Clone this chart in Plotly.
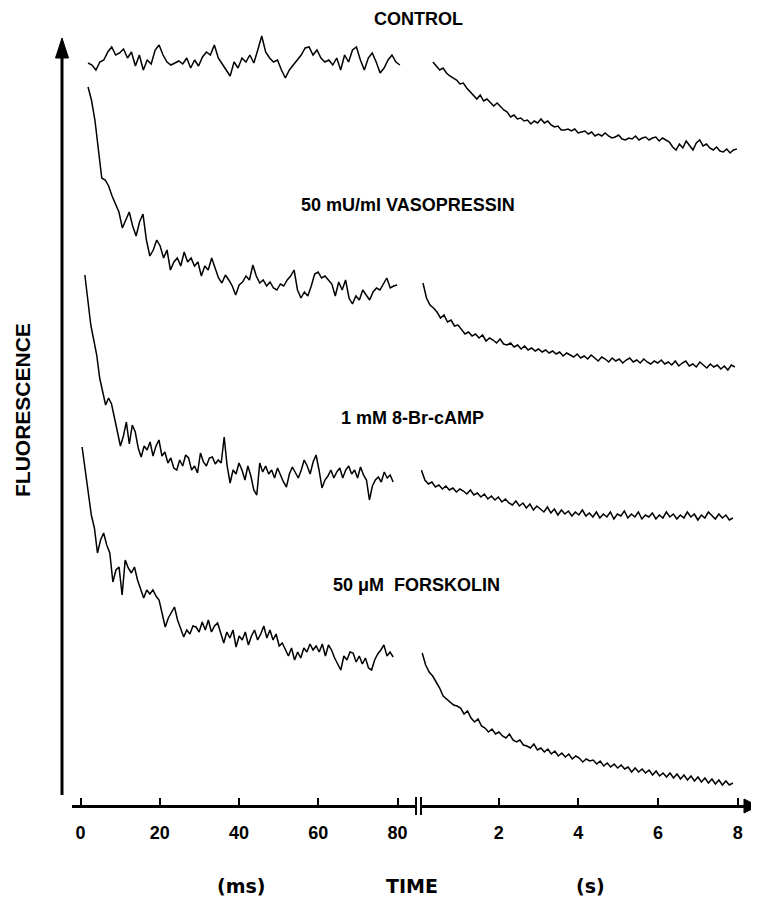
import numpy as np
import plotly.graph_objects as go

# page size and default 8px body margin of the written html page
PAGE_W, PAGE_H = 759, 899
OFF = 8
W, H = PAGE_W - OFF, PAGE_H - OFF

# ---------------- data (fluorescence, arbitrary units) ----------------
# millisecond segments
control_ms = [743,741,736,744,746,754,759,751,753,757,748,754,740,751,736,746,742,756,761,751,744,741,743,745,742,748,738,746,740,749,754,751,761,748,742,736,730,744,738,748,744,751,743,756,770,754,748,744,746,736,728,736,741,746,751,758,759,751,756,748,744,746,741,748,736,751,744,756,759,746,736,748,753,744,733,738,746,751,744,741]
vaso_ms = [719,706,686,656,628,626,620,610,601,594,578,586,594,580,570,584,592,566,550,556,566,560,548,556,536,544,548,540,554,544,548,540,544,530,540,536,548,538,528,523,531,526,520,511,521,524,530,526,541,530,523,526,520,524,518,516,522,520,526,530,536,516,508,514,510,520,532,534,528,530,526,522,510,524,516,526,508,502,510,506,516,511,506,514,518,516,522,528,518,520,521]
brcamp_ms = [531,506,481,466,451,428,414,401,408,402,388,374,360,370,384,362,381,374,358,349,360,356,364,350,360,366,350,354,343,348,338,336,346,340,351,348,336,340,333,353,344,340,348,349,342,346,343,369,340,323,336,332,343,336,326,340,330,316,311,343,334,340,332,336,328,338,330,324,319,332,339,334,328,336,346,340,332,344,351,336,318,326,330,336,328,334,338,328,336,340,332,336,328,339,331,326,306,320,326,329,324,334,328,331,324]
forsk_ms = [359,336,314,291,278,253,266,273,261,253,224,236,239,211,246,238,233,239,226,216,208,216,212,216,210,206,194,179,188,194,199,186,178,169,176,172,180,179,174,184,176,186,174,180,183,172,163,174,168,176,159,170,166,174,161,170,176,166,172,180,168,176,166,172,160,163,156,150,158,146,154,148,158,154,162,156,160,154,162,150,161,156,148,142,136,150,146,154,153,144,150,142,148,138,136,146,152,156,161,150,154,149]

# second segments
control_s = [744,740,736,738,733,730,728,726,722,723,718,714,710,707,711,705,707,703,700,703,699,696,694,689,691,687,688,685,686,682,685,683,687,683,685,681,679,680,676,676,677,675,677,673,674,675,672,674,670,672,670,673,670,668,669,671,667,666,668,667,670,666,668,669,666,668,669,665,668,666,664,659,656,662,658,665,660,656,663,666,660,662,658,656,659,655,654,657,653,656,657]
vaso_s = [523,508,501,498,494,488,491,484,486,480,481,476,472,474,470,472,468,471,465,468,466,463,467,462,461,463,459,461,457,460,456,458,455,457,454,456,453,455,452,454,450,453,451,449,452,448,450,447,451,448,445,449,447,444,448,445,447,443,446,448,444,446,443,447,444,442,445,443,446,442,444,441,445,440,443,445,440,442,439,444,441,438,442,439,441,437,440,436,441,439]
brcamp_s = [336,326,322,324,319,321,317,320,316,318,314,317,315,312,316,311,313,309,312,307,310,306,309,304,307,303,301,305,300,303,298,302,296,300,297,294,299,293,297,291,296,292,295,290,294,291,296,290,293,289,294,288,292,289,294,287,292,290,295,288,292,289,294,287,291,289,293,287,291,288,294,289,292,287,291,288,294,289,292,286,291,288,294,290,287,292,288,291,286,288]
forsk_s = [153,141,134,130,124,118,110,107,104,101,100,98,92,95,88,84,87,80,78,74,77,72,74,70,68,72,66,64,66,61,60,58,62,56,58,54,57,52,55,50,53,49,52,47,50,48,44,47,45,46,42,45,40,43,39,42,38,41,37,39,34,38,34,37,33,36,31,35,30,33,29,33,28,32,27,31,26,30,25,29,24,28,23,27,22,26,21,25,21,23]

# sampling windows (start, end) of each segment
ms_windows = {"control": (1.9, 80.6), "vaso": (1.9, 79.9), "brcamp": (1.1, 78.9), "forsk": (0.4, 78.9)}
s_windows = {"control": (0.35, 7.98), "vaso": (0.10, 7.93), "brcamp": (0.06, 7.88), "forsk": (0.08, 7.88)}

ms_ticks = [0, 20, 40, 60, 80]
s_ticks = [2, 4, 6, 8]

labels = ["CONTROL", "50 mU/ml VASOPRESSIN", "1 mM 8-Br-cAMP", "50 \u03bcM  FORSKOLIN"]

# ---------------- figure ----------------
def px(x):
    return (x - OFF) / W

def py(y):
    return 1 - (y - OFF) / H

fig = go.Figure()
line = dict(color="black", width=1.5)

for key, vals in [("control", control_ms), ("vaso", vaso_ms), ("brcamp", brcamp_ms), ("forsk", forsk_ms)]:
    t0, t1 = ms_windows[key]
    fig.add_trace(go.Scatter(x=np.linspace(t0, t1, len(vals)), y=vals, mode="lines",
                             line=line, xaxis="x", yaxis="y", showlegend=False, hoverinfo="skip"))
for key, vals in [("control", control_s), ("vaso", vaso_s), ("brcamp", brcamp_s), ("forsk", forsk_s)]:
    t0, t1 = s_windows[key]
    fig.add_trace(go.Scatter(x=np.linspace(t0, t1, len(vals)), y=vals, mode="lines",
                             line=line, xaxis="x2", yaxis="y", showlegend=False, hoverinfo="skip"))

FONT = "Liberation Sans, Arial, Helvetica, sans-serif"
NARROW = "Liberation Sans Narrow, Arial Narrow, Liberation Sans, Arial, sans-serif"
pos_axis = py(806)

# ms axis: 0 ms at page x 80.5, 3.9625 px/ms, domain px [72, 416]
ms_dom = (72, 416)
ms_rng = [(ms_dom[0] - 80.5) / 3.9625, (ms_dom[1] - 80.5) / 3.9625]
# s axis: 0 s at page x 419, 39.83 px/s, domain px [421, 750]
s_dom = (421, 750)
s_rng = [(s_dom[0] - 419) / 39.83, (s_dom[1] - 419) / 39.83]

common = dict(showline=True, linecolor="black", linewidth=3, ticks="inside", ticklen=7,
              tickwidth=1.5, tickcolor="black", showgrid=False, zeroline=False,
              tickfont=dict(family=NARROW, size=18, color="black", weight="bold"),
              anchor="free", position=pos_axis, ticklabelstandoff=9)

fig.update_layout(
    width=W, height=H,
    margin=dict(l=0, r=0, t=0, b=0),
    paper_bgcolor="white", plot_bgcolor="white",
    xaxis=dict(domain=[px(ms_dom[0]), px(ms_dom[1])], range=ms_rng,
               tickmode="array", tickvals=ms_ticks, ticktext=[str(v) for v in ms_ticks], **common),
    xaxis2=dict(domain=[px(s_dom[0]), px(s_dom[1])], range=s_rng,
                tickmode="array", tickvals=s_ticks, ticktext=[str(v) for v in s_ticks], **common),
    yaxis=dict(domain=[0, 1], range=[806 - PAGE_H, 806 - OFF], visible=False, fixedrange=True),
)

shapes = []
# y axis arrow
shapes.append(dict(type="line", xref="paper", yref="paper", x0=px(62), x1=px(62), y0=py(795), y1=py(55),
                   line=dict(color="black", width=3)))
shapes.append(dict(type="path", xref="paper", yref="paper",
                   path=f"M {px(55.5)} {py(58)} L {px(62)} {py(38)} L {px(68.5)} {py(58)} Z",
                   fillcolor="black", line=dict(color="black", width=1)))
# x axis arrowhead
shapes.append(dict(type="path", xref="paper", yref="paper",
                   path=f"M {px(744)} {py(799)} L {px(758)} {py(806)} L {px(744)} {py(813)} Z",
                   fillcolor="black", line=dict(color="black", width=1)))
# axis break marks
for xb in (416, 421):
    shapes.append(dict(type="line", xref="paper", yref="paper", x0=px(xb), x1=px(xb), y0=py(797), y1=py(815),
                       line=dict(color="black", width=2)))
fig.update_layout(shapes=shapes)

ann = []
label_pos = [(418, 19), (408, 205), (413, 418), (416, 585)]
for text, (x, y) in zip(labels, label_pos):
    ann.append(dict(text=text, x=px(x), y=py(y), xref="paper", yref="paper", showarrow=False,
                    font=dict(family=FONT, size=18, color="black", weight="bold"), xanchor="center", yanchor="middle"))
ann.append(dict(text="FLUORESCENCE", x=px(23), y=py(410), xref="paper", yref="paper", showarrow=False,
                textangle=-90, borderpad=0, font=dict(family=FONT, size=21, color="black", weight="bold"),
                xanchor="center", yanchor="middle"))
for text, x in [("(ms)", 241), ("TIME", 412), ("(s)", 590)]:
    ann.append(dict(text=text, x=px(x), y=py(886), xref="paper", yref="paper", showarrow=False,
                    font=dict(family="DejaVu Sans, " + FONT, size=19, color="black", weight="bold"),
                    xanchor="center", yanchor="middle"))
fig.update_layout(annotations=ann)

fig.write_html("out.html")
